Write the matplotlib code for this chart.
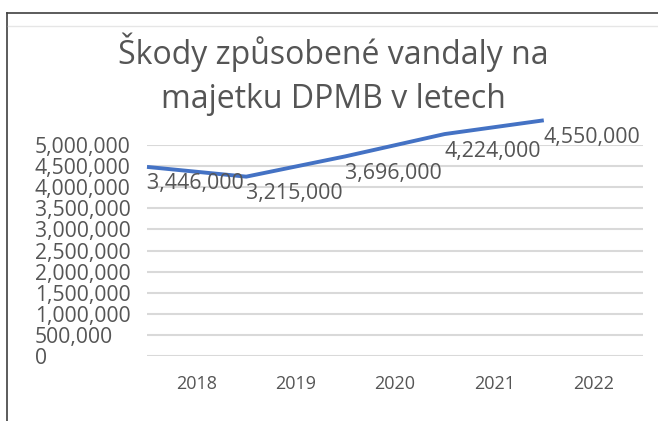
import matplotlib
matplotlib.use("Agg")
import matplotlib.pyplot as plt
from matplotlib.lines import Line2D
import numpy as np

years = ["2018", "2019", "2020", "2021", "2022"]
damages = [3446000, 3215000, 3696000, 4224000, 4550000]
ytick_values = list(range(0, 5000001, 500000))
ytick_labels = [f"{v:,}" for v in ytick_values]
title = "Škody způsobené vandaly na\nmajetku DPMB v letech"

plt.rcParams['font.family'] = ['Open Sans', 'DejaVu Sans']
gray = "#555555"
blue = "#4472C4"

W, H = 658, 421
fig = plt.figure(figsize=(W / 100, H / 100), dpi=100)
fig.patch.set_facecolor("white")

# frame of the screenshot
fig.add_artist(Line2D([7 / W, 1], [1 - 13 / H, 1 - 13 / H], color="#404040", lw=1.2))
fig.add_artist(Line2D([7 / W, 7 / W], [0, 1 - 13 / H], color="#404040", lw=1.2))
fig.add_artist(Line2D([8 / W, 1], [1 - 26 / H, 1 - 26 / H], color="#e6e6e6", lw=1.0))

pos = [147 / W, 65 / H, 496 / W, 211 / H]
ax = fig.add_axes(pos)
ax.set_xlim(-0.5, len(years) - 0.5)
ax.set_ylim(0, 5000000)
ax.set_yticks(ytick_values)
ax.set_yticklabels(ytick_labels)
ax.set_xticks(range(len(years)))
ax.set_xticklabels(years)
for s in ax.spines.values():
    s.set_visible(False)
ax.grid(axis="y", color="#d9d9d9", lw=1.5)
ax.set_axisbelow(True)
ax.tick_params(axis="y", length=0, pad=112 * 0.72, labelsize=15.2, labelcolor=gray)
ax.tick_params(axis="x", length=0, pad=14, labelsize=13, labelcolor=gray)
for lab in ax.get_yticklabels():
    lab.set_horizontalalignment("left")

# line drawn in an overlaid axes (shifted as in the original screenshot)
offset = 1035000
ax2 = fig.add_axes(pos, sharex=None)
ax2.set_xlim(0, len(years))
ax2.set_ylim(-offset, 5000000 - offset)
ax2.axis("off")
xs = np.arange(len(years))
ax2.plot(xs, damages, color=blue, lw=2.8, clip_on=False, solid_capstyle="butt")
for x, v in zip(xs, damages):
    ax2.annotate(f"{v:,}", (x, v), xytext=(0, -17), textcoords="offset pixels",
                 ha="left", va="center", fontsize=15.4, color=gray, annotation_clip=False)

fig.text(333 / W, 1 - 74 / H, title, ha="center", va="center", fontsize=23,
         color=gray, linespacing=1.45)

fig.savefig("out.png", dpi=100)
